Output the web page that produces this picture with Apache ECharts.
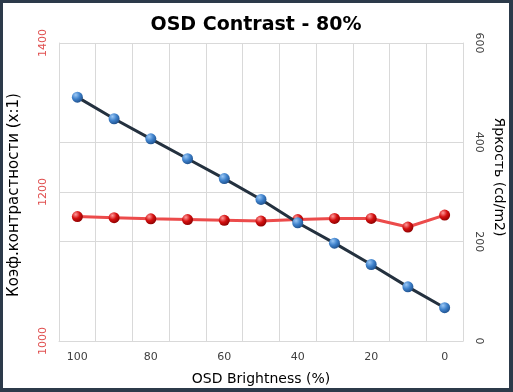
<!DOCTYPE html>
<html>
<head>
<meta charset="utf-8">
<script src="https://cdn.jsdelivr.net/npm/echarts@6/dist/echarts.min.js"></script>
<style>
html,body{margin:0;padding:0;background:#2c3a4a;}
#frame{position:absolute;left:0;top:0;width:513px;height:392px;background:#2c3a4a;}
#chart{position:absolute;left:3px;top:3px;width:506px;height:385px;background:#fff;}
</style>
</head>
<body>
<div id="frame"><div id="chart"></div></div>
<script>
const categories = ['100','90','80','70','60','50','40','30','20','10','0'];
const contrastValues = [1167, 1165.5, 1164, 1163, 1162, 1161, 1163, 1164.5, 1164.5, 1153, 1169];
const brightnessValues = [491, 447.5, 407, 367, 327, 285, 238, 197, 154, 109, 67];
const leftTicks = {min: 1000, max: 1400, interval: 200};
const rightTicks = {min: 0, max: 600, interval: 200};

const font = 'DejaVu Sans';
const chart = echarts.init(document.getElementById('chart'), null, {renderer: 'canvas'});

function sphere(light, mid, dark) {
  return new echarts.graphic.RadialGradient(0.35, 0.3, 0.75, [
    {offset: 0, color: light}, {offset: 0.5, color: mid}, {offset: 1, color: dark}
  ]);
}

chart.setOption({
  animation: false,
  backgroundColor: '#fff',
  title: {
    text: 'OSD Contrast - 80%',
    left: 'center', top: 8,
    textStyle: {fontFamily: font, fontWeight: 'bold', fontSize: 19, color: '#000'}
  },
  grid: {left: 56, right: 46, top: 40, bottom: 47, containLabel: false, outerBoundsMode: 'none'},
  xAxis: {
    type: 'category',
    data: categories,
    boundaryGap: true,
    name: 'OSD Brightness (%)',
    nameLocation: 'middle',
    nameGap: 31,
    nameTextStyle: {fontFamily: font, fontSize: 14, color: '#000'},
    axisLine: {show: true, lineStyle: {color: '#d9d9d9'}},
    axisTick: {show: false},
    axisLabel: {interval: 1, fontFamily: font, fontSize: 11, color: '#404040', margin: 11},
    splitLine: {show: true, interval: 0, lineStyle: {color: '#d9d9d9'}}
  },
  yAxis: [{
    type: 'value',
    min: leftTicks.min, max: leftTicks.max, interval: leftTicks.interval,
    position: 'left',
    name: 'Коэф.контрастности (x:1)',
    nameLocation: 'middle',
    nameGap: 37,
    nameRotate: 90,
    nameTextStyle: {fontFamily: font, fontSize: 15, color: '#000', padding: [0, 6, 0, 0]},
    axisLine: {show: true, lineStyle: {color: '#d9d9d9'}},
    axisTick: {show: false},
    axisLabel: {rotate: 90, fontFamily: font, fontSize: 11, color: '#e05050', margin: 10, formatter: v => String(v)},
    splitLine: {show: true, lineStyle: {color: '#d9d9d9'}}
  }, {
    type: 'value',
    min: rightTicks.min, max: rightTicks.max, interval: rightTicks.interval,
    position: 'right',
    name: 'Яркость (cd/m2)',
    nameLocation: 'middle',
    nameGap: 26,
    nameRotate: -90,
    nameTextStyle: {fontFamily: font, fontSize: 14, color: '#000', padding: [0, 30, 0, 0]},
    axisLine: {show: true, lineStyle: {color: '#d9d9d9'}},
    axisTick: {show: false},
    axisLabel: {rotate: -90, fontFamily: font, fontSize: 11, color: '#404040', margin: 10, formatter: v => String(v)},
    splitLine: {show: true, lineStyle: {color: '#d9d9d9'}}
  }],
  series: [{
    name: 'contrast',
    type: 'line',
    yAxisIndex: 0,
    data: contrastValues,
    symbol: 'circle',
    symbolSize: 11,
    z: 2,
    lineStyle: {color: '#ec4b4b', width: 3},
    itemStyle: {color: sphere('#ff9a9a', '#d41010', '#8a0000'), borderWidth: 0}
  }, {
    name: 'brightness',
    type: 'line',
    yAxisIndex: 1,
    data: brightnessValues,
    symbol: 'circle',
    symbolSize: 11,
    z: 3,
    lineStyle: {color: '#24313f', width: 3},
    itemStyle: {color: sphere('#9cc8f5', '#3f82cc', '#1e4f8a'), borderWidth: 0}
  }]
});
</script>
</body>
</html>
